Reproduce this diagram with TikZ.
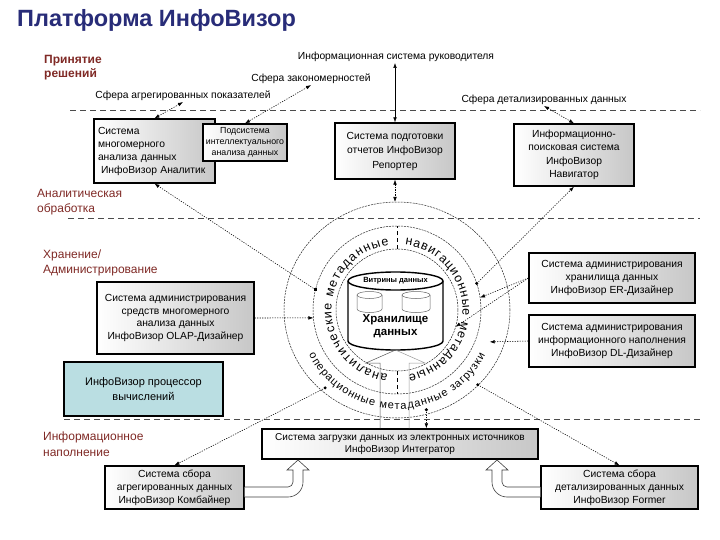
\documentclass[tikz,border=0pt]{standalone}
\usepackage{fontspec}
\setmainfont{Liberation Sans}
\usetikzlibrary{arrows.meta,decorations.text,calc}
\definecolor{navyT}{RGB}{40,44,120}
\definecolor{maroonT}{RGB}{128,42,38}
\definecolor{procfill}{RGB}{186,222,226}
\newcommand\fsz[2]{\fontsize{#1}{#2}\selectfont}
\begin{document}
\begin{tikzpicture}[x=1pt,y=1pt,
 box/.style={draw=black, line width=1.3pt, left color=white, right color=black!22, align=center, inner sep=0pt, font=\fsz{10.3}{13}},
 sect/.style={text=maroonT, align=left, anchor=west, font=\fsz{12}{15}, inner sep=0pt},
 toplab/.style={font=\fsz{10.3}{12}, inner sep=1pt},
 dashline/.style={draw=black!70, line width=0.7pt, dash pattern=on 6pt off 4pt},
 ring/.style={draw=black!85, line width=0.5pt, dash pattern=on 2pt off 1pt},
 conn/.style={draw=black, line width=0.55pt, dash pattern=on 1.2pt off 1.3pt},
 tip/.style={-{Latex[length=5pt,width=3.6pt]}},
 dtip/.style={{Latex[length=5pt,width=3.6pt]}-{Latex[length=5pt,width=3.6pt]}},
 hollow/.style={draw=black!75, line width=0.6pt, fill=white},
 thinline/.style={line width=0.5pt}
]
\useasboundingbox (0,0) rectangle (720,-540);
\fill[white] (0,0) rectangle (720,-540);

% title
\node[anchor=west, inner sep=0pt, text=navyT, font=\bfseries\fsz{23.5}{26}] (title) at (17,-20) {Платформа ИнфоВизор};

% section labels
\node[sect, font=\bfseries\fsz{12}{14}] (s1) at (44,-68) {Принятие\\решений};
\node[sect] (s2) at (37,-202) {Аналитическая\\обработка};
\node[sect] (s3) at (43,-262.5) {Хранение/\\Администрирование};
\node[sect, font=\fsz{12}{16}] (s4) at (43,-444) {Информационное\\наполнение};

% top labels
\node[toplab] (toprep) at (396,-57) {Информационная система руководителя};
\node[toplab] (topzak) at (311,-79) {Сфера закономерностей};
\node[toplab] (topagg) at (183,-96) {Сфера агрегированных показателей};
\node[toplab] (topdet) at (544,-100) {Сфера детализированных данных};

% dashed separators
\draw[dashline] (70,-110) -- (700,-110);
\draw[dashline] (68,-218) -- (700,-218);
\draw[dashline] (64,-419) -- (700,-419);

% circles
\coordinate (C) at (397,-310);
\draw[ring] (C) ellipse [x radius=113pt, y radius=108pt];
\draw[ring] (C) circle [radius=84pt];
\draw[ring] (C) circle [radius=61pt];
\draw[line width=0.6pt, dash pattern=on 4pt off 3pt] ($(C)+(0,61)$) -- ($(C)+(0,84)$);
\draw[line width=0.6pt, dash pattern=on 4pt off 3pt] ($(C)+(0,-61)$) -- ($(C)+(0,-84)$);

% ring texts
{\fsz{12.5}{14}
\path[decorate, decoration={text along path, text={аналитические метаданные}, text align=fit to path}]
  ($(C)+(262:65.5)$) arc[start angle=262, end angle=97, radius=65.5pt];
\path[decorate, decoration={text along path, text={навигационные метаданные}, text align=fit to path}]
  ($(C)+(83:65.5)$) arc[start angle=83, end angle=-80, radius=65.5pt];
}
{\fsz{11}{13}
\path[decorate, decoration={text along path, text={операционные метаданные загрузки}, text align=fit to path}]
  ($(C)+(207:99)$) arc[start angle=207, end angle=333, radius=99pt];
}

% cylinder
\draw[line width=1.4pt, fill=white] (348,-281) -- (348,-341) arc[start angle=180, end angle=360, x radius=47.5pt, y radius=9pt] -- (443,-281) arc[start angle=0, end angle=180, x radius=47.5pt, y radius=9pt] -- cycle;
\draw[line width=1.4pt] (348,-281) arc[start angle=180, end angle=360, x radius=47.5pt, y radius=9pt];
\draw[thinline, draw=black!60] (357,-295) -- (357,-309) arc[start angle=180, end angle=360, x radius=12.5pt, y radius=3.5pt] -- (382,-295);
\draw[thinline, draw=black!60] (369.5,-295) ellipse [x radius=12.5pt, y radius=3.5pt];
\draw[thinline, draw=black!60] (402,-295) -- (402,-309) arc[start angle=180, end angle=360, x radius=14pt, y radius=3.5pt] -- (430,-295);
\draw[thinline, draw=black!60] (416,-295) ellipse [x radius=14pt, y radius=3.5pt];
\node[font=\bfseries\fsz{7.5}{9}, inner sep=0pt] (vitr) at (395.5,-281) {Витрины данных};
\node[font=\bfseries\fsz{11.5}{13}, align=center, inner sep=0pt] (hran) at (395.5,-326) {Хранилище\\данных};

% boxes
\node[box, text width=113pt, inner xsep=4pt, align=left, minimum height=64pt] (anl) at (154.5,-151) {Система\\многомерного\\анализа данных\\\hspace*{3pt}ИнфоВизор Аналитик};
\node[box, font=\fsz{8.8}{11}, minimum width=84pt, minimum height=37pt] (sub) at (245,-142.5) {Подсистема\\интеллектуального\\анализа данных};
\node[box, font=\fsz{10.3}{14.5}, minimum width=120pt, minimum height=56pt] (rep) at (395,-151) {Система подготовки\\отчетов ИнфоВизор\\Репортер};
\node[box, font=\fsz{10.3}{13.5}, minimum width=120pt, minimum height=62pt] (nav) at (574,-155) {Информационно-\\поисковая система\\ИнфоВизор\\Навигатор};
\node[box, font=\fsz{10.3}{12.7}, minimum width=157pt, minimum height=72pt] (olap) at (175.5,-318) {Система администрирования\\средств многомерного\\анализа данных\\ИнфоВизор OLAP-Дизайнер};
\node[draw=black, line width=1.3pt, fill=procfill, align=center, inner sep=0pt, font=\fsz{11}{15}, minimum width=159pt, minimum height=54pt] (proc) at (143.5,-389) {ИнфоВизор процессор\\вычислений};
\node[box, font=\fsz{10.3}{13}, minimum width=166pt, minimum height=50pt] (er) at (612,-278) {Система администрирования\\хранилища данных\\ИнфоВизор ER-Дизайнер};
\node[box, font=\fsz{10.3}{13}, minimum width=166pt, minimum height=52pt] (dl) at (612,-341) {Система администрирования\\информационного наполнения\\ИнфоВизор DL-Дизайнер};
\node[box, font=\fsz{10}{12.5}, minimum width=276pt, minimum height=30pt] (int) at (400,-444) {Система загрузки данных из электронных источников\\ИнфоВизор Интегратор};
\node[box, font=\fsz{10.3}{13}, minimum width=139pt, minimum height=43pt] (comb) at (174.5,-487.5) {Система сбора\\агрегированных данных\\ИнфоВизор Комбайнер};
\node[box, font=\fsz{10.3}{13}, minimum width=157pt, minimum height=43pt] (form) at (619.5,-487.5) {Система сбора\\детализированных данных\\ИнфоВизор Former};

% funnel from integrator to warehouse
\draw[thinline, draw=black!65] (395.5,-350) -- (366,-363) -- (380,-363) -- (380,-363 |- int.north);
\draw[thinline, draw=black!40] (395.5,-350) -- (425,-363) -- (409,-363) -- (409,-363 |- int.north);

% hollow arrows into integrator
\draw[hollow] (comb.east |- 0,-487) -- (288,-487) arc[start angle=270, end angle=360, radius=5pt] -- (293,-470) -- (287,-470) -- (298,-460) -- (309,-470) -- (303,-470) -- (303,-482) arc[start angle=0, end angle=-90, radius=15pt] -- (comb.east |- 0,-497);
\draw[hollow] (form.west |- 0,-487) -- (507,-487) arc[start angle=270, end angle=180, radius=5pt] -- (502,-470) -- (508,-470) -- (497,-460) -- (486,-470) -- (492,-470) -- (492,-482) arc[start angle=180, end angle=270, radius=15pt] -- (form.west |- 0,-497);

% circle points
\coordinate (pA) at ($(C)+(166:84)$);
\coordinate (pOlap) at ($(C)+(185.4:84)$);
\coordinate (pTop) at ($(C)+(0,108)$);
\coordinate (pNav) at ($(C)+(18.4:84)$);
\coordinate (pEr1) at ($(C)+(8.5:84)$);
\coordinate (pEr2) at ($(C)+(-16:61)$);
\coordinate (pDl) at ($(C)+(-19:98)$);
\coordinate (pComb) at ($(C)+(227.3:106)$);
\coordinate (pForm) at ($(C)+(-42.8:110)$);
\coordinate (pInt) at ($(C)+(-73.6:104)$);

% connectors top
\draw[conn, dtip] (topagg.south) -- (anl.north);
\draw[conn, dtip] (topzak.south) -- (sub.north);
\draw[thinline, dtip] (rep.north |- toprep.south) -- (rep.north);
\draw[conn, dtip] (topdet.south) -- (nav.north);

% connectors middle
\draw[conn, tip] (pA) -- (anl.south);
\fill (pA) ++(-1.8,-1.8) rectangle ++(3.6,3.6);
\draw[conn, dtip] (rep.south) -- (rep.south |- pTop);
\draw[conn, tip] (pNav) -- (nav.south);
\fill (pNav) circle (1.7pt);
\draw[conn, tip] (er.west) -- (pEr1);
\draw[conn, tip] (er.west) -- (pEr2);
\draw[conn, tip] (dl.west) -- (pDl);
\draw[conn, tip] (olap.east) -- (pOlap);

% connectors bottom
\draw[conn, tip] (pComb) -- (comb.north);
\fill (pComb) circle (1.7pt);
\draw[conn, tip] (pForm) -- (form.north);
\fill (pForm) circle (1.7pt);
\draw[conn, tip] (pInt) -- (pInt |- int.north);
\fill (pInt) circle (1.7pt);
\end{tikzpicture}
\end{document}
